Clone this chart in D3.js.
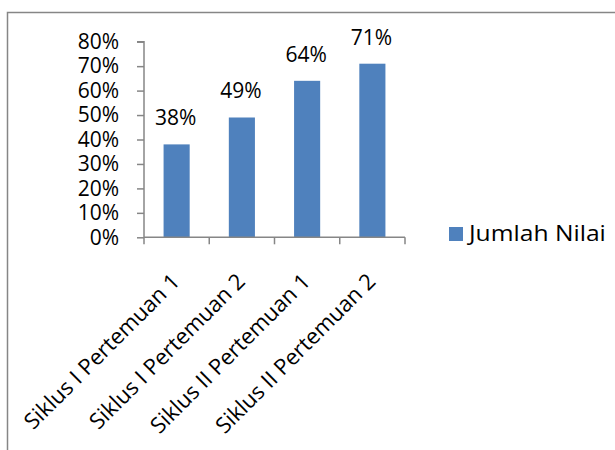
<!DOCTYPE html>
<html>
<head>
<meta charset="utf-8">
<script src="https://cdn.jsdelivr.net/npm/d3@7"></script>
<style>
  html, body { margin: 0; padding: 0; background: #fff; }
  svg { display: block; }
  text { font-family: "Open Sans", "Noto Sans", sans-serif; fill: #000; }
</style>
</head>
<body>
<svg id="chart" width="615" height="450"></svg>
<script>
const categories = ["Siklus I Pertemuan 1", "Siklus I Pertemuan 2", "Siklus II Pertemuan 1", "Siklus II Pertemuan 2"];
const values = [0.38, 0.49, 0.64, 0.71];
const dataLabels = ["38%", "49%", "64%", "71%"];
const yTicks = [0, 0.1, 0.2, 0.3, 0.4, 0.5, 0.6, 0.7, 0.8];
const seriesName = "Jumlah Nilai";

const svg = d3.select("#chart");
const axisColor = "#868686";
const barColor = "#4F81BD";

// outer frame
svg.append("rect")
  .attr("x", 7.5).attr("y", 12.5)
  .attr("width", 640).attr("height", 460)
  .attr("fill", "none").attr("stroke", axisColor).attr("stroke-width", 1.5);

const x0 = 144, x1 = 405, yTop = 41.7, yBot = 237.3;
const x = d3.scaleBand().domain(categories).range([x0, x1]).paddingInner(0.6).paddingOuter(0.3);
const y = d3.scaleLinear().domain([0, 0.8]).range([yBot, yTop]);

// bars
svg.selectAll("rect.bar").data(values).enter().append("rect")
  .attr("class", "bar")
  .attr("x", (d, i) => x(categories[i]))
  .attr("y", d => y(d))
  .attr("width", x.bandwidth())
  .attr("height", d => yBot - y(d))
  .attr("fill", barColor);

// y axis
const yAxis = svg.append("g").attr("transform", `translate(${x0},0)`)
  .call(d3.axisLeft(y).tickValues(yTicks).tickFormat(d3.format(".0%")).tickSize(7).tickPadding(18));
yAxis.select(".domain").attr("stroke", axisColor).attr("stroke-width", 1.5).attr("d", `M-7,${yTop}H0V${yBot}`);
yAxis.selectAll(".tick line").attr("stroke", axisColor).attr("stroke-width", 1.5);
yAxis.selectAll(".tick text").attr("font-size", 21).attr("font-family", "Open Sans").attr("fill", "#000");

// x axis
const step = (x1 - x0) / categories.length;
const xg = svg.append("g").attr("transform", `translate(0,${yBot})`);
xg.append("line").attr("x1", x0).attr("x2", x1).attr("y1", 0).attr("y2", 0)
  .attr("stroke", axisColor).attr("stroke-width", 1.5);
xg.selectAll("line.tk").data(d3.range(categories.length + 1)).enter().append("line")
  .attr("class", "tk")
  .attr("x1", i => x0 + i * step).attr("x2", i => x0 + i * step)
  .attr("y1", 0).attr("y2", 7)
  .attr("stroke", axisColor).attr("stroke-width", 1.5);

xg.selectAll("text.cat").data(categories).enter().append("text")
  .attr("class", "cat")
  .attr("transform", d => `translate(${x(d) + x.bandwidth() / 2 - 1},${40}) rotate(-45)`)
  .attr("text-anchor", "end")
  .attr("dy", "0.35em")
  .attr("font-size", 22)
  .text(d => d);

// data labels
svg.selectAll("text.lbl").data(values).enter().append("text")
  .attr("class", "lbl")
  .attr("x", (d, i) => x(categories[i]) + x.bandwidth() / 2 - 1)
  .attr("y", d => y(d) - 19)
  .attr("text-anchor", "middle")
  .attr("font-size", 21)
  .text((d, i) => dataLabels[i]);

// legend
svg.append("rect").attr("x", 449).attr("y", 227).attr("width", 14).attr("height", 14).attr("fill", barColor);
svg.append("text").attr("transform", "translate(469,241) scale(1.12,1)").attr("font-size", 22).text(seriesName);
</script>
</body>
</html>
